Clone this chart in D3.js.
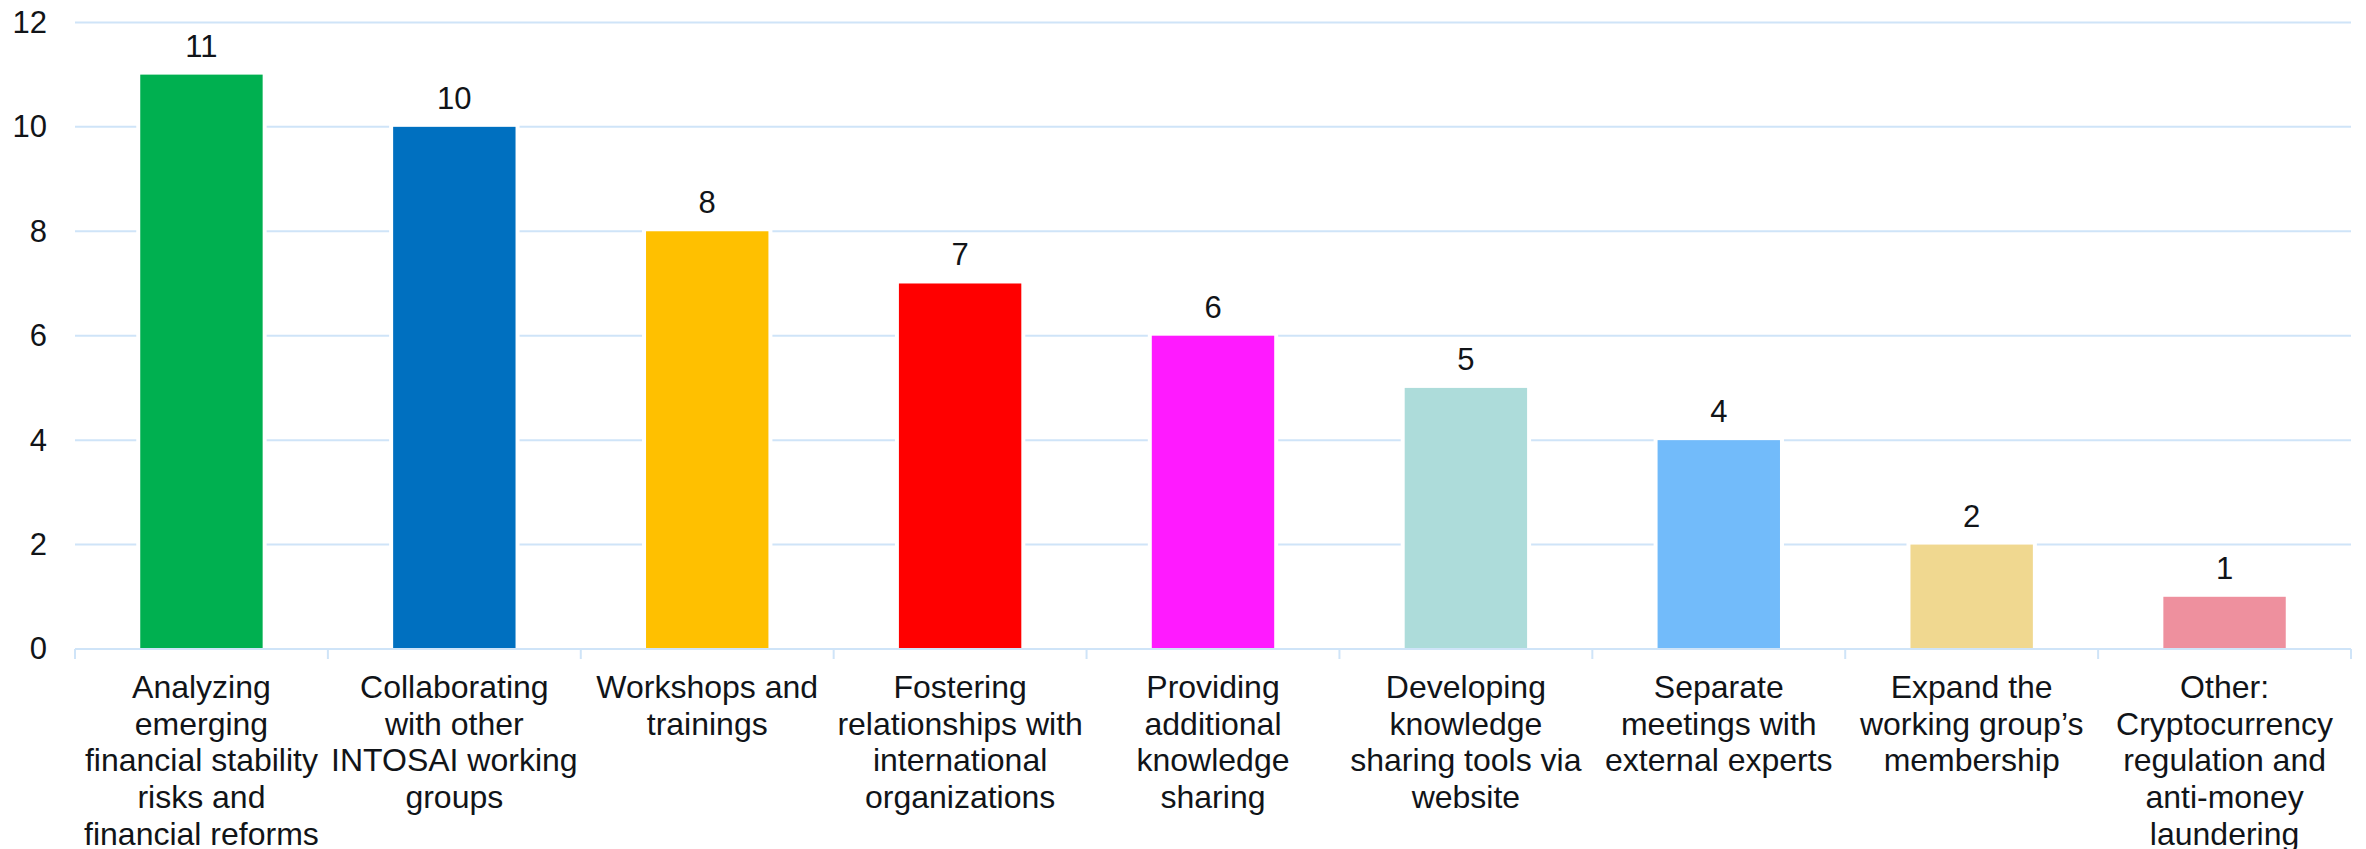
<!DOCTYPE html>
<html>
<head>
<meta charset="utf-8">
<script src="https://cdn.jsdelivr.net/npm/d3@7"></script>
<style>
  html, body { margin: 0; padding: 0; background: #ffffff; }
  svg { display: block; }
  text { font-family: "Liberation Sans", Arial, sans-serif; fill: #111418; }
</style>
</head>
<body>
<svg id="chart" width="2366" height="849"></svg>
<script>
// Category labels (line breaks mark where each label wraps)
const categories = [
  "Analyzing\nemerging\nfinancial stability\nrisks and\nfinancial reforms",
  "Collaborating\nwith other\nINTOSAI working\ngroups",
  "Workshops and\ntrainings",
  "Fostering\nrelationships with\ninternational\norganizations",
  "Providing\nadditional\nknowledge\nsharing",
  "Developing\nknowledge\nsharing tools via\nwebsite",
  "Separate\nmeetings with\nexternal experts",
  "Expand the\nworking group\u2019s\nmembership",
  "Other:\nCryptocurrency\nregulation and\nanti-money\nlaundering"
];
const values = [11, 10, 8, 7, 6, 5, 4, 2, 1];
const barColors = ["#00b050", "#0070c0", "#ffc000", "#ff0000", "#ff1aff",
                   "#addcda", "#72bbfa", "#f0d890", "#ee909e"];
const yTicks = [0, 2, 4, 6, 8, 10, 12];

const svg = d3.select("#chart");
const plotLeft = 75, plotRight = 2351, plotTop = 22.4, plotBottom = 649;
const gridColor = "#cfe4f8";

const x = d3.scaleBand()
  .domain(d3.range(categories.length))
  .range([plotLeft, plotRight])
  .paddingInner(0.516)
  .paddingOuter(0.258);

const y = d3.scaleLinear().domain([0, 12]).range([plotBottom, plotTop]);

// Horizontal gridlines
svg.append("g")
  .selectAll("line")
  .data(yTicks.filter(d => d > 0))
  .join("line")
  .attr("x1", plotLeft).attr("x2", plotRight)
  .attr("y1", d => y(d)).attr("y2", d => y(d))
  .attr("stroke", gridColor).attr("stroke-width", 2);

// Y axis labels
const yAxis = d3.axisLeft(y).tickValues(yTicks).tickSize(0).tickPadding(28);
const yg = svg.append("g").attr("transform", `translate(${plotLeft},0)`).call(yAxis);
yg.select(".domain").remove();
yg.selectAll("text")
  .attr("font-size", 31)
  .attr("fill", "#111418")
  .style("font-family", '"Liberation Sans", Arial, sans-serif');

// White halo behind each bar breaks the gridlines around it
const halo = 4;
svg.append("g")
  .selectAll("rect")
  .data(values)
  .join("rect")
  .attr("x", (d, i) => x(i) - halo)
  .attr("width", x.bandwidth() + 2 * halo)
  .attr("y", d => y(d) - halo)
  .attr("height", d => plotBottom - y(d) + halo)
  .attr("fill", "#ffffff");

// Bars
svg.append("g")
  .selectAll("rect")
  .data(values)
  .join("rect")
  .attr("x", (d, i) => x(i))
  .attr("width", x.bandwidth())
  .attr("y", d => y(d))
  .attr("height", d => plotBottom - y(d))
  .attr("fill", (d, i) => barColors[i]);

// Category axis: baseline and boundary ticks
const step = x.step();
const xg = svg.append("g");
xg.append("line")
  .attr("x1", plotLeft).attr("x2", plotRight)
  .attr("y1", plotBottom).attr("y2", plotBottom)
  .attr("stroke", gridColor).attr("stroke-width", 2);
xg.selectAll("line.tick")
  .data(d3.range(categories.length + 1))
  .join("line")
  .attr("class", "tick")
  .attr("x1", i => plotLeft + i * step).attr("x2", i => plotLeft + i * step)
  .attr("y1", plotBottom).attr("y2", plotBottom + 10)
  .attr("stroke", gridColor).attr("stroke-width", 2);

// Value labels above bars
svg.append("g")
  .selectAll("text")
  .data(values)
  .join("text")
  .attr("x", (d, i) => x(i) + x.bandwidth() / 2)
  .attr("y", d => y(d) - 18)
  .attr("text-anchor", "middle")
  .attr("font-size", 31)
  .text(d => d);

// Wrapped category labels
const lineHeight = 36.7;
const labels = svg.append("g")
  .selectAll("text")
  .data(categories)
  .join("text")
  .attr("x", (d, i) => x(i) + x.bandwidth() / 2)
  .attr("y", 698)
  .attr("text-anchor", "middle")
  .attr("font-size", 32);
labels.each(function(d, i) {
  const t = d3.select(this);
  d.split("\n").forEach((ln, k) => {
    t.append("tspan")
      .attr("x", x(i) + x.bandwidth() / 2)
      .attr("dy", k === 0 ? 0 : lineHeight)
      .text(ln);
  });
});
</script>
</body>
</html>
